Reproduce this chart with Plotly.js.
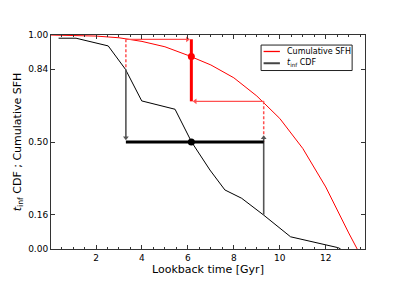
<!DOCTYPE html>
<html><head><meta charset="utf-8">
<script src="https://cdn.plot.ly/plotly-3.0.1.min.js"></script>
<style>body{margin:0;background:#fff}#c{width:407px;height:285px}</style>
</head><body><div id="c"></div>
<script>
// Cumulative SFH (red curve)
const sfhAge = [0, 1, 2, 3, 4, 5, 6, 7, 8, 9, 10, 11, 12, 13, 13.37];
const sfhVal = [1.0, 0.999, 0.995, 0.987, 0.970, 0.945, 0.905, 0.860, 0.800, 0.715, 0.610, 0.470, 0.290, 0.075, 0.0];
// t_inf CDF (black line)
const cdfAge = [0.37, 1.13, 2.53, 3.28, 3.99, 5.44, 6.16, 6.96, 7.61, 8.34, 9.28, 10.47, 12.55, 12.65];
const cdfVal = [0.985, 0.985, 0.949, 0.84, 0.692, 0.653, 0.50, 0.369, 0.276, 0.237, 0.16, 0.057, 0.006, 0.0];
// percentile markers
const pctLevel = [0.16, 0.50, 0.84];          // CDF levels
const pctAge = [3.3, 6.15, 9.3];              // ages at 84th, 50th, 16th
const sfhAtPct = [0.98, 0.90, 0.69];          // cumulative SFH at those ages
const yTicks = [0.0, 0.16, 0.50, 0.84, 1.0];
const yTickText = ['0.00', '0.16', '0.50', '0.84', '1.00'];
const xTicks = [2, 4, 6, 8, 10, 12];
const legendNames = ['Cumulative SFH', '<i>t</i><sub>inf</sub> CDF'];

const dashRed = '#ff5050';
const gray = '#555';
const gap = 0.17;   // arrow head offset (Gyr) from the thick median line
function head(x, y, sym, color) {
  return {x: [x], y: [y], mode: 'markers', showlegend: false, hoverinfo: 'skip',
    marker: {symbol: sym, size: 5, color: color, line: {width: 0}}};
}
function seg(x, y, color, w, dash) {
  return {x: x, y: y, mode: 'lines', showlegend: false, hoverinfo: 'skip',
    line: {color: color, width: w, dash: dash || 'solid'}};
}
const traces = [
  {x: sfhAge, y: sfhVal, mode: 'lines', name: legendNames[0], showlegend: false, line: {color: '#ff0000', width: 1}},
  {x: cdfAge, y: cdfVal, mode: 'lines', name: legendNames[1], showlegend: false, line: {color: '#000', width: 1}},
  // dashed red verticals
  seg([pctAge[0], pctAge[0]], [sfhAtPct[0], pctLevel[2]], dashRed, 1.5, '3px,2px'),
  seg([pctAge[2], pctAge[2]], [sfhAtPct[2], pctLevel[1]], dashRed, 1.5, '3px,2px'),
  // red horizontal arrows
  seg([pctAge[0], pctAge[1] - gap], [sfhAtPct[0], sfhAtPct[0]], dashRed, 1.2),
  head(pctAge[1] - gap, sfhAtPct[0], 'triangle-right', dashRed),
  seg([pctAge[2], pctAge[1] + gap], [sfhAtPct[2], sfhAtPct[2]], dashRed, 1.2),
  head(pctAge[1] + gap, sfhAtPct[2], 'triangle-left', dashRed),
  // gray vertical arrows
  seg([pctAge[0], pctAge[0]], [pctLevel[2], pctLevel[1] + 0.02], gray, 1.6),
  head(pctAge[0], pctLevel[1] + 0.02, 'triangle-down', gray),
  seg([pctAge[2], pctAge[2]], [pctLevel[0], pctLevel[1] + 0.02], gray, 1.6),
  head(pctAge[2], pctLevel[1] + 0.02, 'triangle-up', gray),
  // thick red vertical at median
  seg([pctAge[1], pctAge[1]], [sfhAtPct[0], sfhAtPct[2]], '#ff0000', 3),
  // thick black horizontal at 0.5
  seg([pctAge[0], pctAge[2]], [pctLevel[1], pctLevel[1]], '#000', 3),
  // dots
  {x: [pctAge[1]], y: [sfhAtPct[1]], mode: 'markers', showlegend: false, marker: {color: '#ff0000', size: 7}},
  {x: [pctAge[1]], y: [pctLevel[1]], mode: 'markers', showlegend: false, marker: {color: '#000', size: 7}}
];

// manual compact legend (paper coords)
const legendColors = ['rgb(255,0,0)', 'rgb(68,68,68)'];
const legendWidths = [1.3, 2];
const legendY = [0.923, 0.868];
const shapes = [
  {type: 'rect', xref: 'paper', yref: 'paper', x0: 0.669, x1: 0.959, y0: 0.834, y1: 0.953,
    line: {color: '#222', width: 1}, fillcolor: '#fff', layer: 'above'}
];
const annotations = [];
for (let i = 0; i < legendNames.length; i++) {
  shapes.push({type: 'line', xref: 'paper', yref: 'paper', x0: 0.677, x1: 0.729, y0: legendY[i], y1: legendY[i],
    line: {color: legendColors[i], width: legendWidths[i]}, layer: 'above'});
  annotations.push({xref: 'paper', yref: 'paper', x: 0.745, y: legendY[i], xanchor: 'left', yanchor: 'middle',
    text: legendNames[i], showarrow: false, font: {size: 8, family: 'DejaVu Sans', color: '#000'}});
}

const layout = {
  width: 407, height: 285,
  margin: {l: 51, r: 42, t: 35, b: 36},
  paper_bgcolor: '#fff', plot_bgcolor: '#fff',
  font: {family: 'DejaVu Sans', size: 9, color: '#000'},
  showlegend: false,
  xaxis: {range: [0.04, 13.71], tickvals: xTicks, ticks: 'inside', ticklen: 4, tickcolor: '#333',
    showline: true, linecolor: '#333', linewidth: 1, mirror: 'ticks', showgrid: false, zeroline: false,
    minor: {dtick: 0.5, tick0: 0, ticks: 'inside', ticklen: 2, tickcolor: '#333', showgrid: false},
    title: {text: 'Lookback time [Gyr]', font: {size: 11}, standoff: 2}, tickfont: {size: 9}},
  yaxis: {range: [0, 1], tickvals: yTicks, ticktext: yTickText, ticks: 'inside', ticklen: 4, tickcolor: '#333',
    showline: true, linecolor: '#333', linewidth: 1, mirror: 'ticks', showgrid: false, zeroline: false,
    title: {text: '<i>t</i><sub>inf</sub> CDF ; Cumulative SFH', font: {size: 11}, standoff: 4}, tickfont: {size: 9}},
  shapes: shapes,
  annotations: annotations
};
Plotly.newPlot('c', traces, layout, {displayModeBar: false, staticPlot: true});
</script></body></html>
